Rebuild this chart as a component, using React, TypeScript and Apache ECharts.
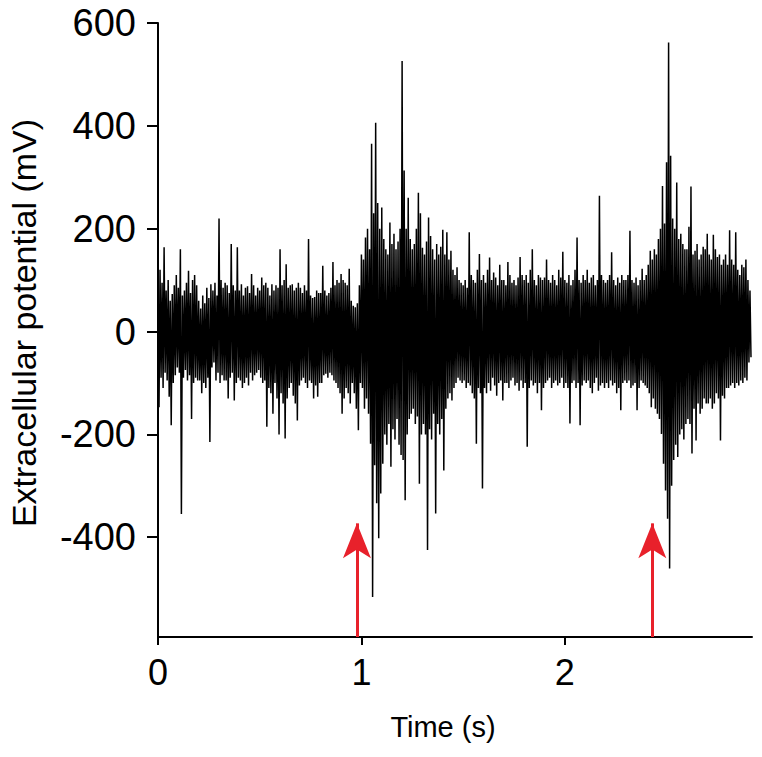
import React, { useEffect, useRef } from "react";
import * as echarts from "echarts";

// Sampling step of the trace (s); each step holds one upper and one lower excursion
const sampleStep = 0.01;
// Upper excursions (mV), one per 10 ms from t = 0.00 s
const upperValues = [
  70, 120, 95, 164, 80, 100, 60, 73, 90, 110,
  85, 160, 70, 80, 95, 118, 75, 100, 110, 90,
  60, 45, 70, 55, 85, 65, 92, 80, 95, 70,
  220, 100, 85, 95, 90, 75, 170, 90, 80, 164,
  80, 92, 70, 85, 88, 75, 112, 90, 70, 85,
  80, 105, 90, 95, 85, 70, 92, 80, 90, 85,
  160, 90, 100, 131, 85, 90, 92, 80, 85, 95,
  85, 75, 90, 80, 180, 70, 65, 67, 80, 75,
  75, 128, 80, 70, 75, 85, 135, 90, 100, 95,
  112, 100, 95, 90, 122, 60, 50, 47, 55, 90,
  150, 140, 183, 200, 160, 365, 230, 406, 250, 200,
  241, 180, 160, 150, 212, 170, 190, 160, 175, 200,
  526, 313, 200, 260, 180, 160, 170, 200, 270, 230,
  163, 150, 175, 222, 186, 160, 140, 170, 150, 165,
  198, 150, 193, 140, 157, 120, 110, 125, 100, 95,
  90, 100, 85, 193, 110, 100, 95, 120, 151, 100,
  110, 95, 120, 144, 100, 115, 105, 90, 130, 100,
  100, 90, 135, 110, 95, 100, 90, 105, 145, 110,
  100, 110, 95, 120, 160, 100, 90, 110, 105, 100,
  105, 140, 100, 95, 110, 100, 90, 120, 105, 155,
  100, 95, 110, 90, 100, 120, 183, 100, 95, 110,
  100, 120, 95, 105, 110, 90, 100, 264, 110, 100,
  95, 100, 110, 154, 100, 90, 105, 95, 110, 100,
  100, 110, 196, 100, 95, 105, 90, 100, 122, 100,
  110, 130, 157, 140, 160, 150, 180, 200, 283, 210,
  329, 562, 342, 220, 200, 290, 180, 190, 170, 160,
  160, 204, 282, 150, 157, 170, 140, 150, 165, 160,
  190, 150, 140, 188, 160, 145, 150, 130, 140, 150,
  130, 197, 140, 130, 193, 120, 110, 130, 125, 140,
  100, 80,
];
// Lower excursions (mV), one per 10 ms, 5 ms after each upper one
const lowerValues = [
  -147, -90, -110, -80, -95, -127, -182, -100, -85, -70,
  -80, -355, -90, -75, -95, -85, -170, -100, -90, -95,
  -95, -120, -100, -110, -90, -215, -70, -60, -95, -80,
  -100, -85, -95, -95, -130, -90, -80, -134, -100, -90,
  -95, -110, -100, -90, -105, -80, -95, -85, -80, -75,
  -90, -100, -95, -185, -110, -120, -160, -100, -130, -200,
  -120, -140, -208, -130, -110, -100, -125, -140, -173, -105,
  -95, -90, -100, -110, -95, -100, -130, -105, -127, -100,
  -100, -85, -82, -90, -80, -85, -95, -100, -110, -120,
  -160, -130, -110, -120, -140, -100, -120, -150, -192, -100,
  -110, -150, -130, -160, -218, -516, -260, -334, -402, -315,
  -257, -200, -220, -180, -263, -190, -210, -170, -220, -240,
  -250, -328, -200, -170, -160, -150, -180, -165, -296, -200,
  -180, -200, -425, -190, -210, -160, -354, -180, -200, -170,
  -270, -150, -130, -120, -134, -110, -100, -90, -95, -100,
  -95, -110, -100, -105, -120, -130, -218, -110, -120, -305,
  -110, -120, -100, -115, -90, -105, -125, -100, -95, -134,
  -100, -100, -110, -95, -90, -105, -100, -115, -95, -110,
  -100, -224, -110, -95, -105, -100, -120, -100, -153, -110,
  -100, -95, -90, -110, -100, -95, -105, -100, -90, -110,
  -100, -110, -179, -100, -95, -110, -100, -182, -105, -95,
  -100, -95, -110, -120, -100, -90, -115, -105, -100, -110,
  -100, -110, -95, -105, -100, -120, -110, -153, -100, -95,
  -100, -95, -110, -105, -100, -153, -110, -95, -100, -105,
  -110, -120, -147, -130, -150, -160, -170, -199, -257, -309,
  -364, -461, -300, -250, -220, -244, -200, -190, -210, -180,
  -170, -180, -237, -150, -212, -140, -160, -150, -130, -140,
  -140, -130, -150, -140, -120, -130, -212, -125, -130, -110,
  -110, -105, -100, -110, -100, -105, -95, -100, -90, -95,
  -60, -50,
];
// Stimulus arrows: times (s) and tip level (mV)
const arrowTimes = [0.978, 2.43];
const arrowTipValue = -373;
const arrowBaseValue = -594;

// Axis settings
const yTickValues = [-400, -200, 0, 200, 400, 600];
const xTickValues = [0, 1, 2];
const xMin = 0;
const xMax = 2.92;
const yMin = -594;
const yMax = 600;

export default function App() {
  const ref = useRef<HTMLDivElement>(null);

  useEffect(() => {
    if (!ref.current) return;
    const chart = echarts.init(ref.current, null, { renderer: "svg" });

    const trace: [number, number][] = [];
    for (let i = 0; i < upperValues.length; i++) {
      const t = i * sampleStep;
      trace.push([t, upperValues[i]]);
      trace.push([t + sampleStep / 2, lowerValues[i]]);
    }

    const font = "'Liberation Sans', Arial, Helvetica, sans-serif";
    const headHeight = 35;
    const headWidth = 21;

    chart.setOption({
      animation: false,
      backgroundColor: "#ffffff",
      grid: { left: 158, right: 10, top: 23, bottom: 120, containLabel: false },
      xAxis: {
        type: "value",
        min: xMin,
        max: xMax,
        axisLine: { show: true, onZero: false, lineStyle: { color: "#000", width: 2 } },
        axisTick: { show: true, length: 8, customValues: xTickValues, lineStyle: { color: "#000", width: 2 } },
        axisLabel: {
          customValues: xTickValues,
          color: "#000",
          fontSize: 36,
          fontFamily: font,
          margin: 17,
        },
        splitLine: { show: false },
      },
      yAxis: {
        type: "value",
        min: yMin,
        max: yMax,
        axisLine: { show: true, onZero: false, lineStyle: { color: "#000", width: 2 } },
        axisTick: { show: true, length: 11, customValues: yTickValues, lineStyle: { color: "#000", width: 2 } },
        axisLabel: {
          customValues: yTickValues,
          color: "#000",
          fontSize: 38,
          fontFamily: font,
          margin: 22,
        },
        splitLine: { show: false },
      },
      graphic: [
        {
          type: "text",
          x: 24,
          y: 323,
          rotation: Math.PI / 2,
          style: {
            text: "Extracellular potential (mV)",
            fontSize: 34,
            fontFamily: font,
            fill: "#000",
            textAlign: "center",
            textVerticalAlign: "middle",
          },
        },
        {
          type: "text",
          x: 443,
          y: 727,
          style: {
            text: "Time (s)",
            fontSize: 29,
            fontFamily: font,
            fill: "#000",
            textAlign: "center",
            textVerticalAlign: "middle",
          },
        },
      ],
      series: [
        {
          type: "line",
          data: trace,
          showSymbol: false,
          symbol: "none",
          lineStyle: { color: "#000", width: 1.5 },
          silent: true,
          markLine: {
            silent: true,
            symbol: ["none", "arrow"],
            symbolSize: [headWidth, headHeight],
            label: { show: false },
            lineStyle: { color: "#e8212b", width: 3, type: "solid" },
            itemStyle: { color: "#e8212b" },
            data: arrowTimes.map((t) => [
              { coord: [t, arrowBaseValue] },
              { coord: [t, arrowTipValue] },
            ]),
          },
        },
      ],
    });

    return () => chart.dispose();
  }, []);

  return (
    <div
      ref={ref}
      style={{ position: "fixed", left: 0, top: 0, width: 762, height: 757 }}
    />
  );
}
